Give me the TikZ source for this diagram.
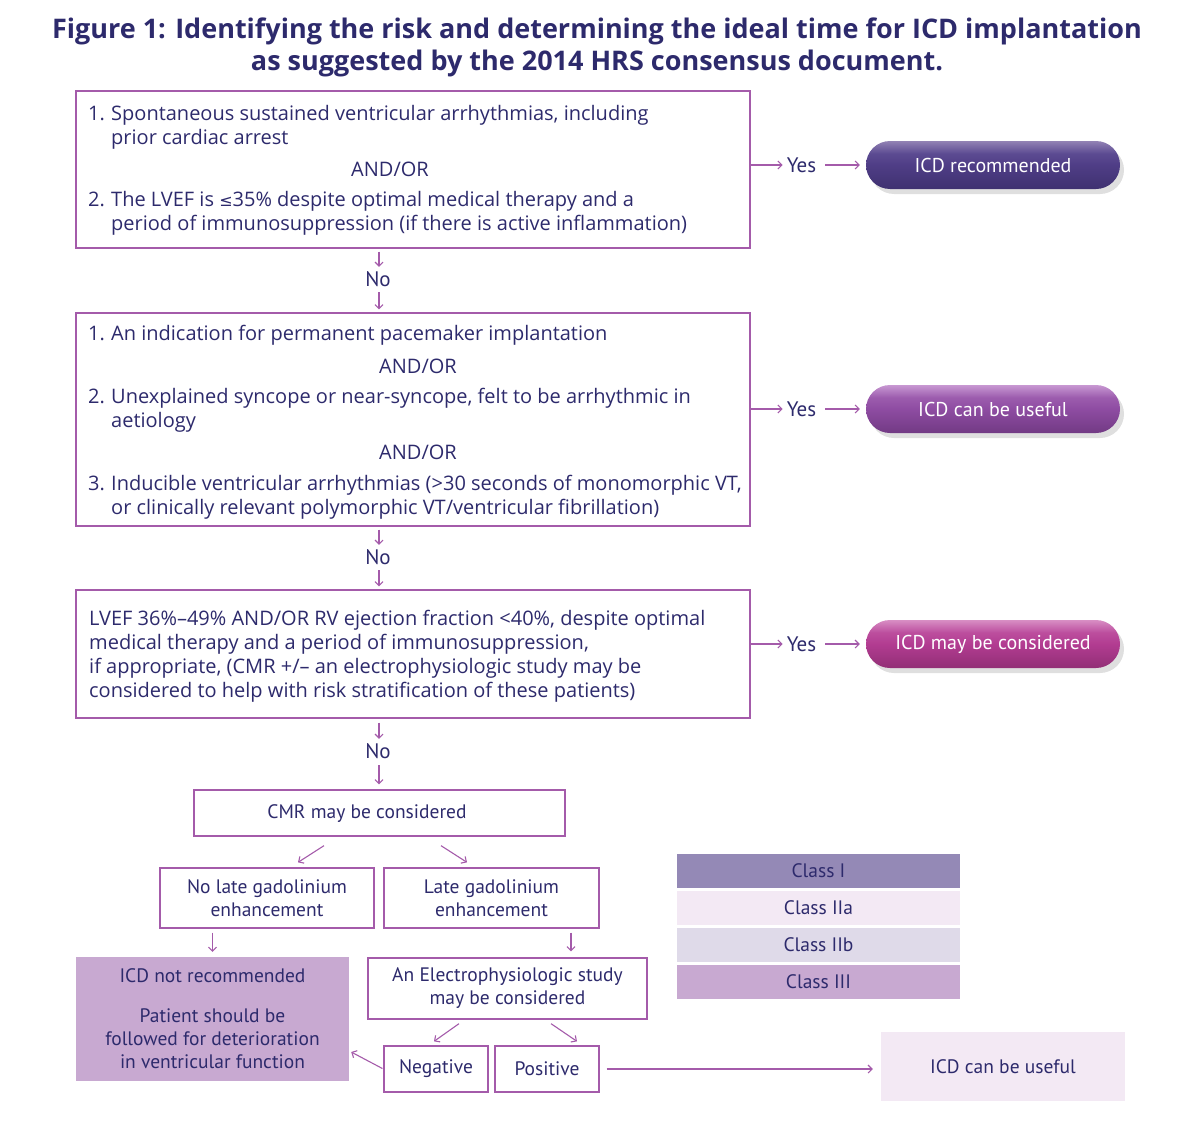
\documentclass[tikz,border=0pt]{standalone}
\usepackage{fontspec}
\setmainfont{PT Sans}
\newfontfamily\boxfont{Open Sans}
\newfontfamily\symfont{DejaVu Sans}
\usetikzlibrary{arrows.meta,positioning,shadows,shapes.misc}

\definecolor{navy}{HTML}{2D2A6C}
\definecolor{edge}{HTML}{A45BAA}
\definecolor{classI}{HTML}{9489B6}
\definecolor{classIIa}{HTML}{F3E9F4}
\definecolor{classIIb}{HTML}{DFDAE9}
\definecolor{classIII}{HTML}{C8A9D1}
% pill colours: dark, main, band, light
\definecolor{pillAdk}{HTML}{3F3170}
\definecolor{pillAmd}{HTML}{4F3D86}
\definecolor{pillAbd}{HTML}{5C4B92}
\definecolor{pillAlt}{HTML}{9282B4}
\definecolor{pillBdk}{HTML}{723A84}
\definecolor{pillBmd}{HTML}{8E4CA2}
\definecolor{pillBbd}{HTML}{9C5CAE}
\definecolor{pillBlt}{HTML}{C898D2}
\definecolor{pillCdk}{HTML}{922F76}
\definecolor{pillCmd}{HTML}{B23C91}
\definecolor{pillCbd}{HTML}{BC4E9E}
\definecolor{pillClt}{HTML}{D88EC4}

% glossy pill shadings
\pgfdeclareverticalshading{pillA}{100bp}{color(0bp)=(pillAdk); color(25bp)=(pillAdk);
	color(50bp)=(pillAmd); color(62bp)=(pillAbd); color(75bp)=(pillAlt); color(100bp)=(pillAlt)}
\pgfdeclareverticalshading{pillB}{100bp}{color(0bp)=(pillBdk); color(25bp)=(pillBdk);
	color(50bp)=(pillBmd); color(62bp)=(pillBbd); color(75bp)=(pillBlt); color(100bp)=(pillBlt)}
\pgfdeclareverticalshading{pillC}{100bp}{color(0bp)=(pillCdk); color(25bp)=(pillCdk);
	color(50bp)=(pillCmd); color(62bp)=(pillCbd); color(75bp)=(pillClt); color(100bp)=(pillClt)}

\tikzset{
	qbox/.style={draw=edge, line width=1.3pt, inner sep=0pt},
	txt/.style={text=navy, font=\fontsize{19.5}{23}\selectfont, inner sep=0pt, align=left},
	ctxt/.style={txt, align=center},
	qtxt/.style={txt, font=\boxfont\fontsize{20}{24}\selectfont},
	pill/.style={rounded rectangle, minimum width=254pt, minimum height=48pt, inner sep=0pt,
		text=white, font=\fontsize{20}{23}\selectfont,
		drop shadow={shadow xshift=4pt, shadow yshift=-5pt, opacity=.25}},
	legend/.style={minimum width=283pt, minimum height=34pt, inner sep=0pt,
		text=navy, font=\fontsize{19.5}{23}\selectfont},
	answer/.style={text=navy, font=\fontsize{21}{24}\selectfont, text height=14pt, text depth=0pt, inner xsep=4pt, inner ysep=3pt},
	arr/.style={draw=edge, line width=1.1pt, -{Straight Barb[length=4pt,width=8pt]}}
}

\begin{document}
\begin{tikzpicture}[x=1pt,y=-1pt]
	\useasboundingbox (0,0) rectangle (1201,1121);

	% title
	\node[text=navy, font=\boxfont\bfseries\fontsize{27}{32}\selectfont, align=center] (title) at (597,47)
		{Figure 1: Identifying the risk and determining the ideal time for ICD implantation\\
		as suggested by the 2014 HRS consensus document.};

	% question boxes
	\node[qbox, minimum width=674pt, minimum height=157pt] (q1) at (413,169.5) {};
	\node[qtxt, anchor=west] (q1a) at (88,127) {\makebox[23pt][l]{1.}Spontaneous sustained ventricular arrhythmias, including\\
		\hspace*{23pt}prior cardiac arrest};
	\node[qtxt, align=center] (q1or) at (390,169) {AND/OR};
	\node[qtxt, anchor=west] (q1b) at (88,213) {\makebox[23pt][l]{2.}The LVEF is {\symfont\fontsize{16}{24}\selectfont ≤}35\% despite optimal medical therapy and a\\
		\hspace*{23pt}period of immunosuppression (if there is active inflammation)};

	\node[qbox, minimum width=674pt, minimum height=213pt] (q2) at (413,419.5) {};
	\node[qtxt, anchor=west] (q2a) at (88,335.5) {\makebox[23pt][l]{1.}An indication for permanent pacemaker implantation};
	\node[qtxt, align=center] (q2or1) at (418,366) {AND/OR};
	\node[qtxt, anchor=west] (q2b) at (88,410) {\makebox[23pt][l]{2.}Unexplained syncope or near-syncope, felt to be arrhythmic in\\
		\hspace*{23pt}aetiology};
	\node[qtxt, align=center] (q2or2) at (418,452) {AND/OR};
	\node[qtxt, anchor=west] (q2c) at (88,497) {\makebox[23pt][l]{3.}Inducible ventricular arrhythmias (>30 seconds of monomorphic VT,\\
		\hspace*{23pt}or clinically relevant polymorphic VT/ventricular fibrillation)};

	\node[qbox, minimum width=674pt, minimum height=128pt] (q3) at (413,654) {};
	\node[qtxt, anchor=west] (q3a) at (89,656.5) {LVEF 36\%–49\% AND/OR RV ejection fraction <40\%, despite optimal\\
		medical therapy and a period of immunosuppression,\\
		if appropriate, (CMR +/– an electrophysiologic study may be\\
		considered to help with risk stratification of these patients)};

	% outcome pills
	\node[pill, shading=pillA] (rec) at (993,165) {ICD recommended};
	\node[pill, shading=pillB] (useful) at (993,409) {ICD can be useful};
	\node[pill, shading=pillC] (may) at (993,644) {ICD may be considered};

	\node[answer] (yes1) at (801.5,165) {Yes};
	\node[answer] (yes2) at (801.5,409) {Yes};
	\node[answer] (yes3) at (801.5,644) {Yes};
	\draw[arr] (q1.east |- yes1) -- (yes1.west);
	\draw[arr, shorten <=5pt, shorten >=6pt] (yes1.east) -- (rec.west);
	\draw[arr] (q2.east |- yes2) -- (yes2.west);
	\draw[arr, shorten <=5pt, shorten >=6pt] (yes2.east) -- (useful.west);
	\draw[arr] (q3.east |- yes3) -- (yes3.west);
	\draw[arr, shorten <=5pt, shorten >=6pt] (yes3.east) -- (may.west);

	% no answers
	\node[answer] (no1) at (378,279) {No};
	\node[answer] (no2) at (378,557) {No};
	\node[answer] (no3) at (378,751) {No};
	\draw[arr, shorten <=3pt, shorten >=2pt] ([xshift=1pt]q1.south -| no1) -- ([xshift=1pt]no1.north);
	\draw[arr, shorten <=3pt, shorten >=3pt] ([xshift=1pt]no1.south) -- ([xshift=1pt]q2.north -| no1);
	\draw[arr, shorten <=3pt, shorten >=2pt] ([xshift=1pt]q2.south -| no1) -- ([xshift=1pt]no2.north);
	\draw[arr, shorten <=3pt, shorten >=3pt] ([xshift=1pt]no2.south) -- ([xshift=1pt]q3.north -| no2);
	\draw[arr, shorten <=4pt, shorten >=2pt] ([xshift=1pt]q3.south -| no2) -- ([xshift=1pt]no3.north);

	% CMR branch
	\node[qbox, minimum width=371pt, minimum height=46pt] (cmr) at (379.5,813) {};
	\node[ctxt] (cmrt) at (367,814) {CMR may be considered};
	\draw[arr, shorten <=4pt, shorten >=5pt] ([xshift=1pt]no3.south) -- ([xshift=1pt]cmr.north -| no3);

	\node[qbox, minimum width=214pt, minimum height=60pt, ctxt] (nolge) at (267,898) {No late gadolinium\\ enhancement};
	\node[qbox, minimum width=215pt, minimum height=60pt, ctxt] (lge) at (491.5,898) {Late gadolinium\\ enhancement};
	\draw[arr] ([xshift=-55.5pt,yshift=-9pt]cmr.south) -- ([xshift=31pt,yshift=5pt]nolge.north);
	\draw[arr] ([xshift=61.5pt,yshift=-9pt]cmr.south) -- ([xshift=-24.5pt,yshift=5pt]lge.north);

	\node[fill=classIII, minimum width=273pt, minimum height=124pt, inner sep=0pt] (notrec) at (212.5,1019) {};
	\node[ctxt] (notrect) at (212.5,1019) {ICD not recommended\\[17pt] Patient should be\\ followed for deterioration\\ in ventricular function};
	\node[qbox, minimum width=279pt, minimum height=61pt, ctxt] (eps) at (507.5,988.5) {An Electrophysiologic study\\ may be considered};
	\draw[arr] ([yshift=-4pt]nolge.south -| notrec) -- ([yshift=5pt]notrec.north);
	\draw[arr] ([xshift=79.5pt,yshift=-4pt]lge.south) -- ([xshift=63.5pt,yshift=6pt]eps.north);

	\node[qbox, minimum width=104pt, minimum height=46pt, ctxt] (neg) at (436,1069) {Negative};
	\node[qbox, minimum width=104pt, minimum height=46pt, ctxt] (pos) at (547,1069) {Positive};
	\draw[arr] ([xshift=-48.5pt,yshift=-4pt]eps.south) -- ([xshift=-2pt,yshift=4pt]neg.north);
	\draw[arr] ([xshift=43.5pt,yshift=-4pt]eps.south) -- ([xshift=30pt,yshift=4pt]pos.north);
	\draw[arr, shorten <=1pt] (neg.west) -- ([xshift=2pt,yshift=-33pt]notrec.east);

	\node[fill=classIIa, minimum width=244pt, minimum height=69pt, inner sep=0pt, ctxt] (useful2) at (1003,1066.5) {ICD can be useful};
	\draw[arr, shorten <=7pt, shorten >=8pt] (pos.east) -- (pos.east -| useful2.west);

	% legend
	\node[legend, fill=classI] (cls1) at (818.5,871) {Class I};
	\node[legend, fill=classIIa] (cls2) at (818.5,908) {Class IIa};
	\node[legend, fill=classIIb] (cls3) at (818.5,945) {Class IIb};
	\node[legend, fill=classIII] (cls4) at (818.5,982) {Class III};
\end{tikzpicture}
\end{document}
